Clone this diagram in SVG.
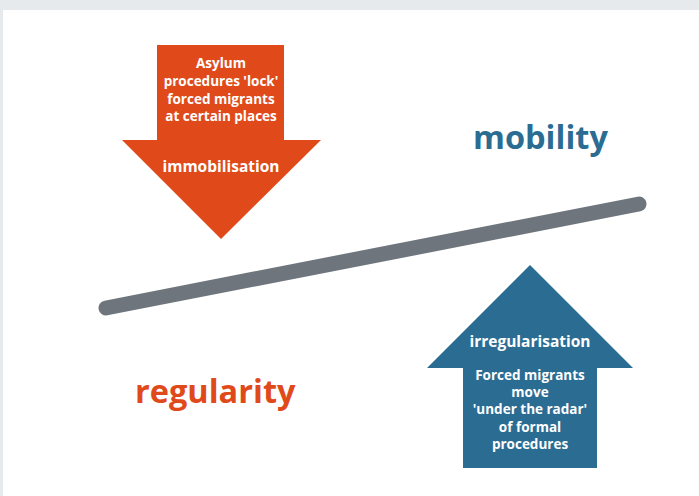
<svg xmlns="http://www.w3.org/2000/svg" width="699" height="496" viewBox="0 0 699 496">
<style>
.t{font-family:"Open Sans","Liberation Sans",sans-serif;font-weight:bold;fill:#fff;text-anchor:middle}
.s{font-size:13.5px}
.h{font-size:15.5px}
.big{font-family:"Open Sans","Liberation Sans",sans-serif;font-weight:bold;font-size:32.5px}
</style>
<rect x="0" y="0" width="699" height="496" fill="#E6EAED"/>
<rect x="3" y="10" width="696" height="486" fill="#FFFFFF"/>
<g id="bar">
<line x1="106" y1="308" x2="639" y2="204" stroke="#6E757C" stroke-width="15" stroke-linecap="round"/>
</g>
<g id="immobilisation">
<path d="M157,45 H284 V140 H321 L221,239 L122,140 H157 Z" fill="#E04A1A"/>
<text class="t s" x="221" y="68">Asylum</text>
<text class="t s" x="221" y="86">procedures 'lock'</text>
<text class="t s" x="221" y="104">forced migrants</text>
<text class="t s" x="221" y="121">at certain places</text>
<text class="t h" x="221" y="172">immobilisation</text>
</g>
<g id="irregularisation">
<path d="M530,265 L633,368 H597 V468 H463 V368 H427 Z" fill="#2B6D92"/>
<text class="t h" x="530" y="347">irregularisation</text>
<text class="t s" x="530" y="380">Forced migrants</text>
<text class="t s" x="530" y="397">move</text>
<text class="t s" x="530" y="414">'under the radar'</text>
<text class="t s" x="530" y="432">of formal</text>
<text class="t s" x="530" y="449">procedures</text>
</g>
<g id="mobility">
<text class="big" x="473" y="149" fill="#2B6D92">mobility</text>
</g>
<g id="regularity">
<text class="big" x="135" y="403" fill="#E04A1A">regularity</text>
</g>
<g id="connectors"/>
</svg>
